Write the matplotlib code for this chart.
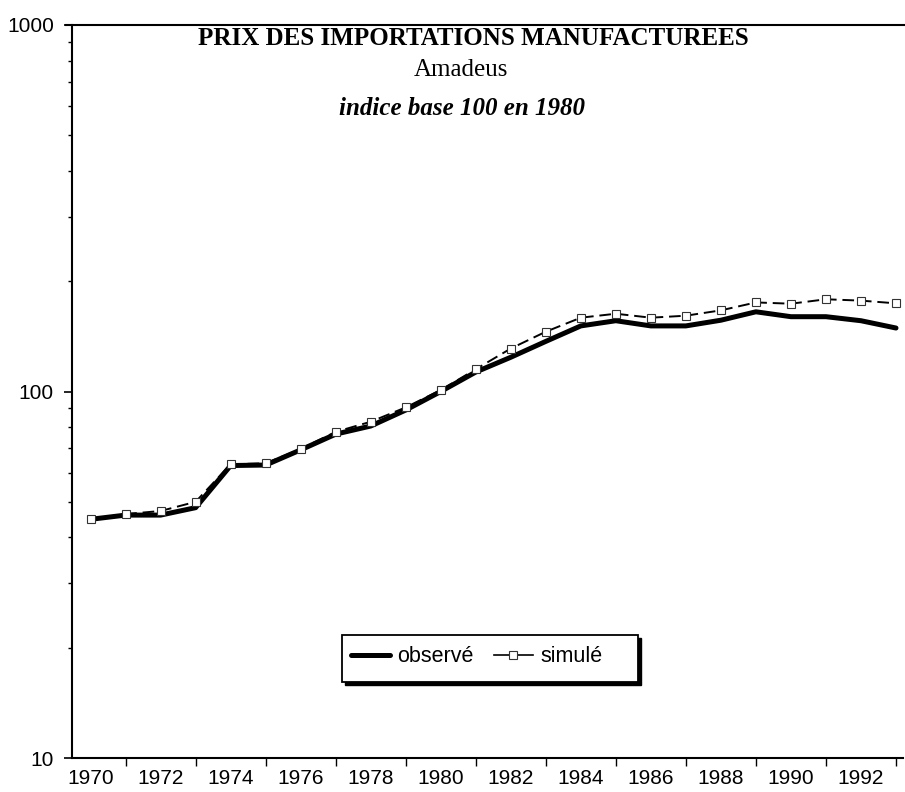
import matplotlib
matplotlib.use("Agg")
import matplotlib.pyplot as plt
from matplotlib.patches import Rectangle
from matplotlib.lines import Line2D
from matplotlib.ticker import FixedLocator, NullFormatter, FixedFormatter

years = list(range(1970, 1994))
observe = [44.8, 46.0, 46.0, 48.2, 62.8, 63.0, 69.3, 76.5, 80.5, 89.0, 100.0, 113.0,
           124.0, 137.0, 151.0, 156.0, 151.0, 151.0, 156.5, 165.0, 160.0, 160.0, 156.0, 149.0]
simule = [44.8, 46.3, 47.2, 50.0, 63.3, 63.7, 69.7, 77.6, 82.7, 90.5, 100.9, 115.0,
          131.0, 145.6, 159.0, 163.0, 159.0, 161.0, 166.5, 175.0, 173.6, 178.5, 177.0, 174.0]
ytick_vals = [10, 100, 1000]
ytick_labels = ["10", "100", "1000"]
xlabel_years = list(range(1970, 1994, 2))
xtick_years = list(range(1971, 1994, 2))

title = "PRIX DES IMPORTATIONS MANUFACTUREES"
subtitle = "Amadeus"
subtitle2 = "indice base 100 en 1980"
legend_labels = ["observé", "simulé"]

W, H = 905, 792
fig = plt.figure(figsize=(W / 100, H / 100), dpi=100)
ax = fig.add_axes([72 / W, 34 / H, (903 - 72) / W, (758 - 25) / H])

l1, = ax.plot(years, observe, color="black", lw=3.6, solid_joinstyle="round",
              solid_capstyle="round", label=legend_labels[0], zorder=3)
l2, = ax.plot(years, simule, color="black", lw=1.4, dashes=(6, 3), marker="s",
              markersize=6, markerfacecolor="white", markeredgecolor="#333333",
              markeredgewidth=0.8, label=legend_labels[1], zorder=4)

ax.set_yscale("log")
ax.set_ylim(10, 1000)
ax.set_xlim(1969.47, 1993.2)

ax.yaxis.set_major_locator(FixedLocator(ytick_vals))
ax.yaxis.set_major_formatter(FixedFormatter(ytick_labels))
ax.yaxis.set_minor_formatter(NullFormatter())
ax.tick_params(axis="y", which="major", direction="out", length=6, width=1.2,
               pad=7, labelsize=15)
ax.tick_params(axis="y", which="minor", direction="out", length=3, width=1)

ax.xaxis.set_major_locator(FixedLocator(xlabel_years))
ax.xaxis.set_major_formatter(FixedFormatter([str(y) for y in xlabel_years]))
ax.xaxis.set_minor_locator(FixedLocator(xtick_years))
ax.xaxis.set_minor_formatter(NullFormatter())
ax.tick_params(axis="x", which="major", length=0, pad=8, labelsize=15)
ax.tick_params(axis="x", which="minor", direction="out", length=6, width=1)

for lab in ax.get_xticklabels() + ax.get_yticklabels():
    lab.set_fontfamily("Liberation Sans")

ax.spines["right"].set_visible(False)
ax.spines["top"].set_visible(True)
ax.spines["top"].set_linewidth(1.5)
ax.spines["left"].set_linewidth(1.5)
ax.spines["bottom"].set_linewidth(1.5)
ax.spines["top"].set_bounds(1969.3, 1993.35)

fig.text(473 / W, 1 - 45 / H, title, ha="center", va="baseline",
         fontfamily="Liberation Serif", fontweight="bold", fontsize=18)
fig.text(461 / W, 1 - 76 / H, subtitle, ha="center", va="baseline",
         fontfamily="Liberation Serif", fontsize=18)
fig.text(462 / W, 1 - 115 / H, subtitle2, ha="center", va="baseline",
         fontfamily="Liberation Serif", fontweight="bold", fontstyle="italic",
         fontsize=18)

# legend frame with hard shadow
bx0, bx1, by0, by1 = 342, 638, 635, 682
fig.patches.append(Rectangle(((bx0 + 3) / W, 1 - (by1 + 3) / H), (bx1 - bx0) / W,
                             (by1 - by0) / H, transform=fig.transFigure,
                             facecolor="black", edgecolor="black", zorder=5))
fig.patches.append(Rectangle((bx0 / W, 1 - by1 / H), (bx1 - bx0) / W,
                             (by1 - by0) / H, transform=fig.transFigure,
                             facecolor="white", edgecolor="black", lw=1.3, zorder=6))

h2 = Line2D([], [], color="black", lw=1.2, marker="s", markersize=6,
            markerfacecolor="white", markeredgecolor="#333333", markeredgewidth=0.8)
leg = ax.legend(handles=[l1, h2], labels=legend_labels, loc="center left",
                bbox_to_anchor=(351 / W, 1 - 657 / H),
                bbox_transform=fig.transFigure, ncol=2, frameon=False,
                handlelength=1.8, columnspacing=0.95, handletextpad=0.35,
                borderpad=0, borderaxespad=0,
                prop={"family": "Liberation Sans", "size": 15.5}, numpoints=1)
leg.set_zorder(7)
leg.remove()
fig.add_artist(leg)

fig.savefig("out.png", dpi=100, facecolor="white")
